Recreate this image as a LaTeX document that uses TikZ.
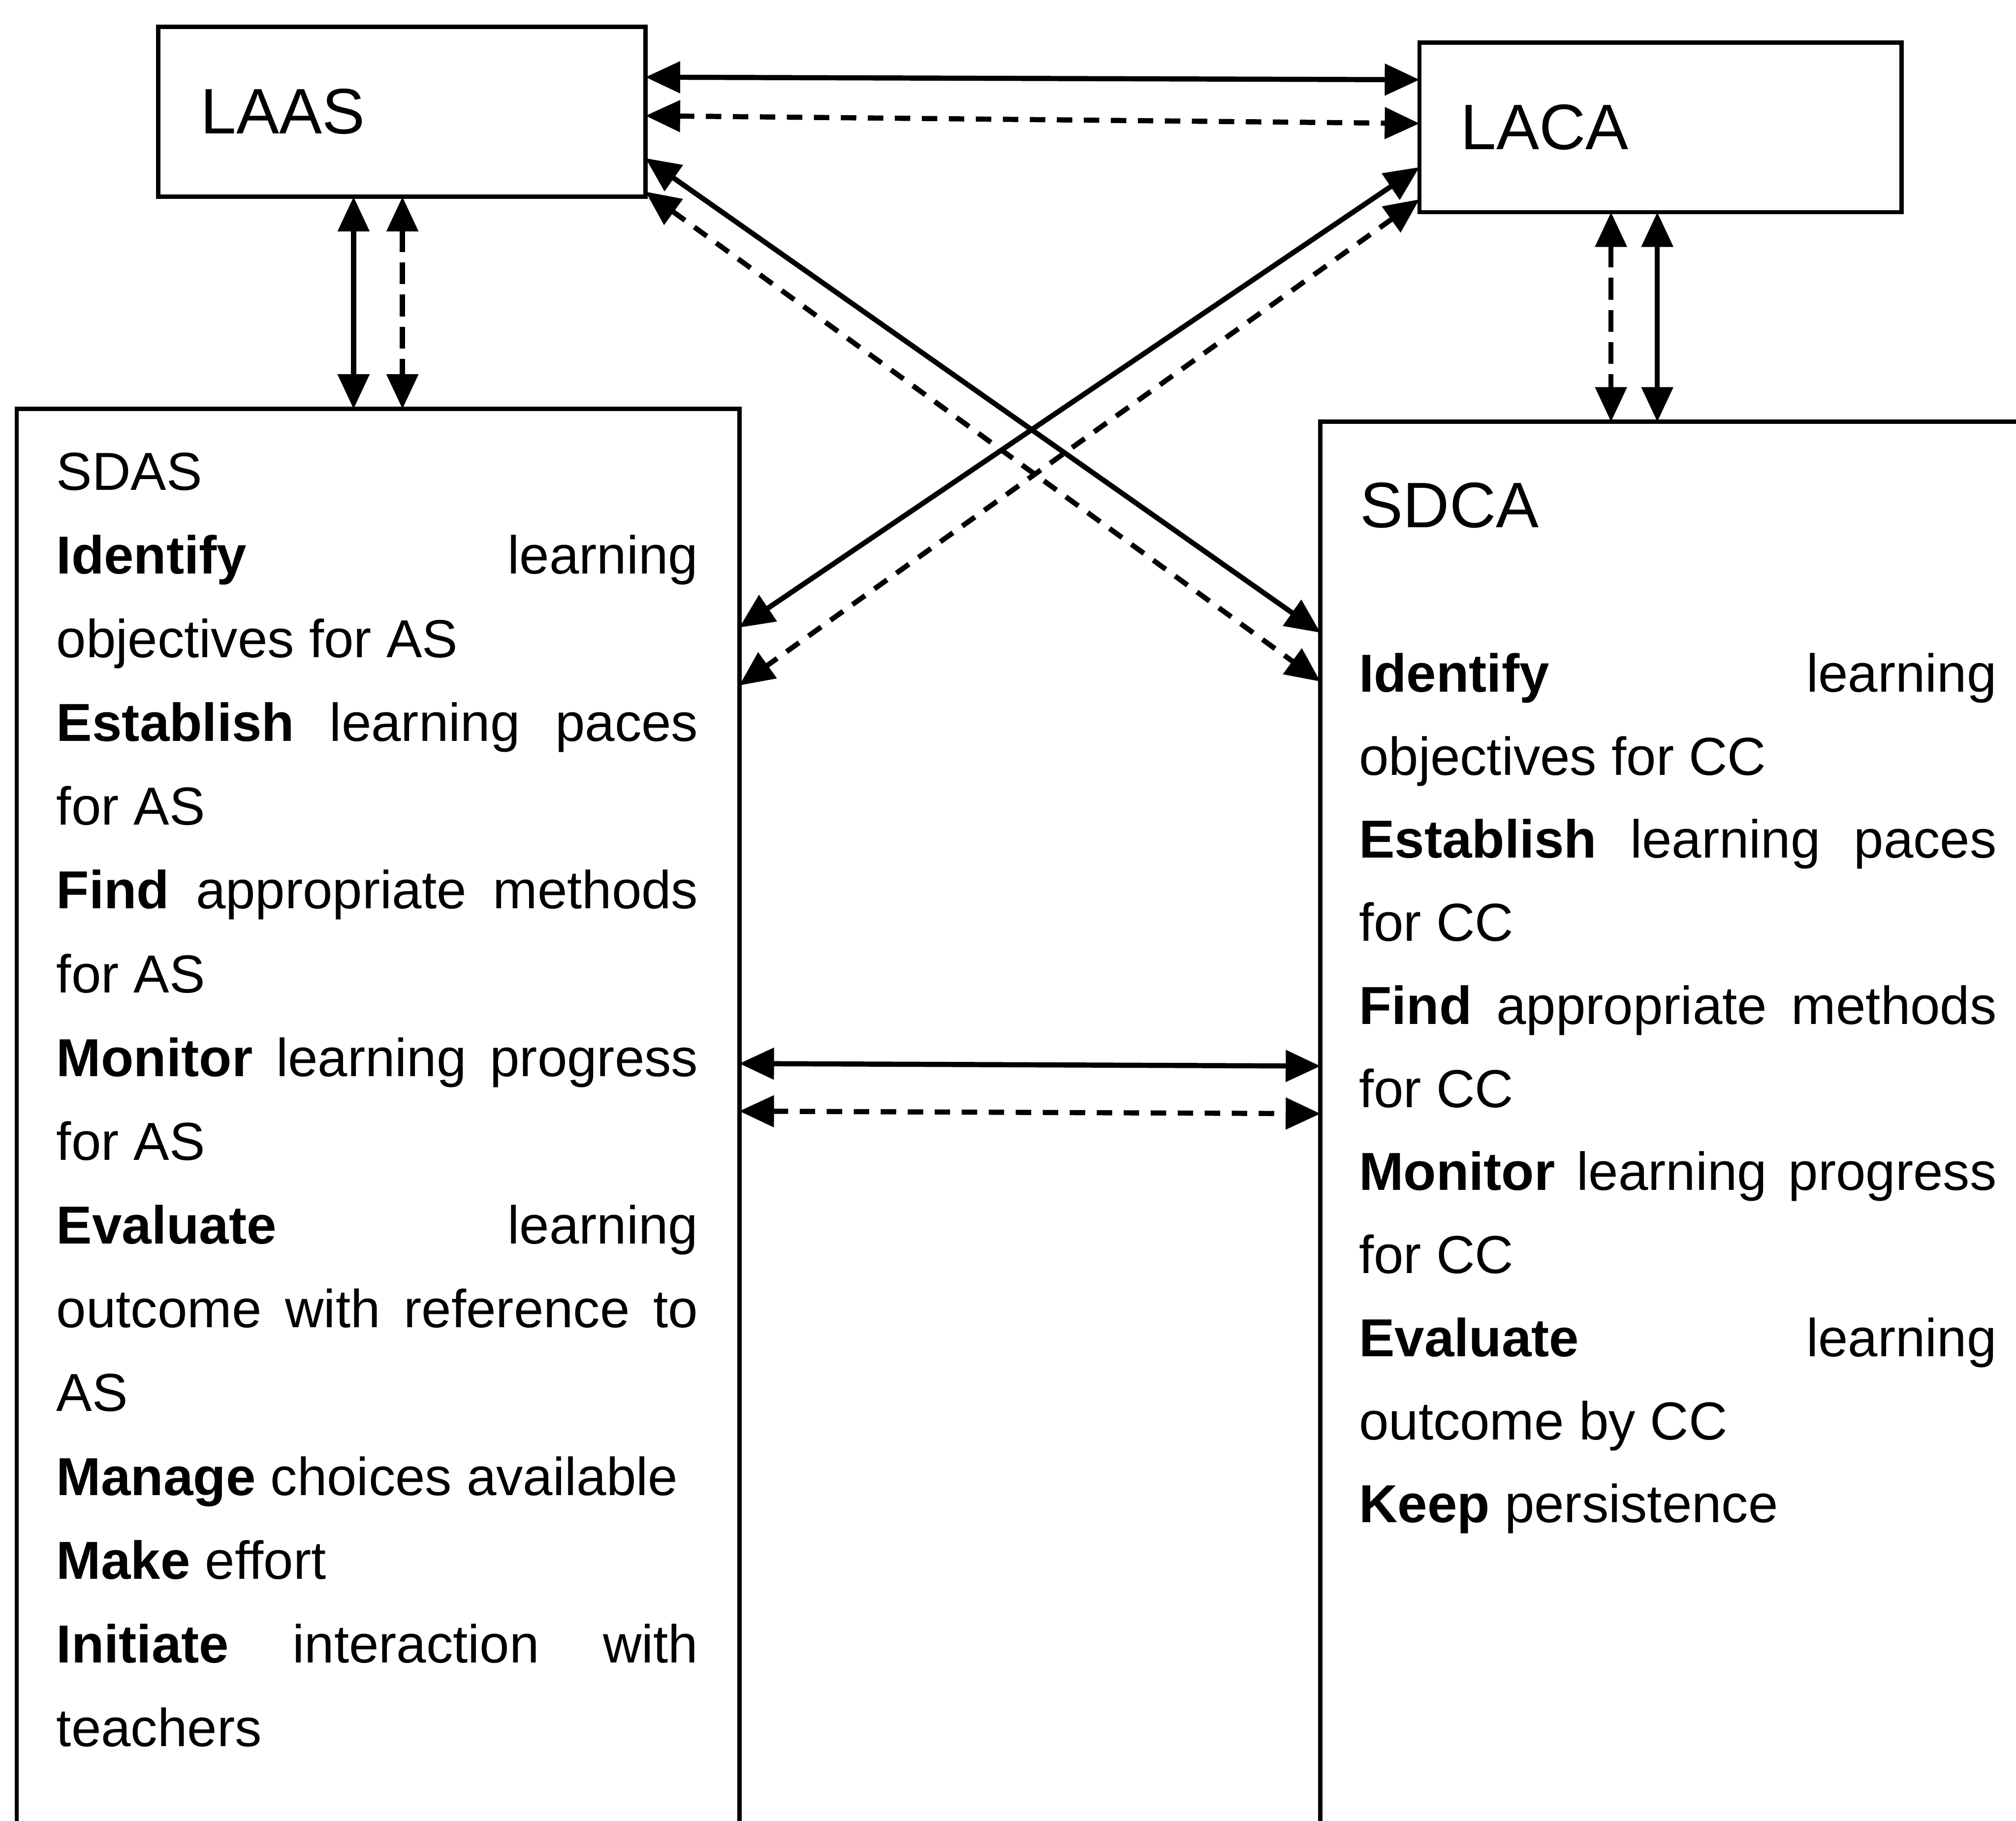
\documentclass[tikz,border=0pt]{standalone}
\usepackage{fontspec}
\setmainfont{Liberation Sans}
\usetikzlibrary{arrows.meta}
\newcommand\jline[1]{\hbox to 499pt{#1}}
\newcommand\kline[1]{\hbox to 496pt{#1}}
\begin{document}
\begin{tikzpicture}[x=1pt,y=-1pt,
  box/.style={draw, line width=3.4pt, inner sep=0pt, outer sep=0pt, anchor=north west},
  body/.style={anchor=base west, inner sep=0pt, outer sep=0pt, font=\fontsize{41.6}{50}\selectfont},
  big/.style={anchor=base west, inner sep=0pt, outer sep=0pt, font=\fontsize{50}{58}\selectfont},
  conn/.style={line width=4pt, {Triangle[length=27pt,width=24pt]}-{Triangle[length=27pt,width=24pt]}},
  dconn/.style={conn, dash pattern=on 12pt off 9pt},
  vdconn/.style={conn, dash pattern=on 17pt off 8pt},
]
\path[use as bounding box] (0,0) rectangle (1568,1416);
\clip (0,0) rectangle (1568,1416);

% boxes
\node[box, minimum width=379pt, minimum height=132pt] (laas) at (123,21) {};
\node[box, minimum width=375pt, minimum height=132pt] (laca) at (1104,33) {};
\node[box, minimum width=562pt, minimum height=1200pt] (sdas) at (13,318) {};
\node[box, minimum width=700pt, minimum height=1200pt] (sdca) at (1027,328) {};

% box titles
\node[big] (tlaas) at (156,104) {LAAS};
\node[big] (tlaca) at (1136,116) {LACA};
\node[big] (tsdca) at (1058,410) {SDCA};

% connectors
\draw[conn]  (laas.east |- 0,60) -- (laca.west |- 0,62);
\draw[dconn] (laas.east |- 0,90) -- (laca.west |- 0,96);
\draw[conn]  (275,0 |- laas.south) -- (275,0 |- sdas.north);
\draw[vdconn] (313,0 |- laas.south) -- (313,0 |- sdas.north);
\draw[vdconn] (1253,0 |- laca.south) -- (1253,0 |- sdca.north);
\draw[conn]  (1289,0 |- laca.south) -- (1289,0 |- sdca.north);
\draw[conn]  (laas.east |- 0,123) -- (sdca.west |- 0,492);
\draw[dconn] (laas.east |- 0,149) -- (sdca.west |- 0,530);
\draw[conn]  (laca.west |- 0,130) -- (sdas.east |- 0,488);
\draw[dconn] (laca.west |- 0,155) -- (sdas.east |- 0,533);
\draw[conn]  (sdas.east |- 0,827) -- (sdca.west |- 0,829);
\draw[dconn] (sdas.east |- 0,864) -- (sdca.west |- 0,866);

% SDAS text
\node[body] (a0) at (44,381) {SDAS};
\node[body] (a1) at (44,446.0) {\jline{\textbf{Identify}\hfill learning}};
\node[body] (a2) at (44,511.2) {objectives for AS};
\node[body] (a3) at (44,576.3) {\jline{\textbf{Establish}\hfill learning\hfill paces}};
\node[body] (a4) at (44,641.5) {for AS};
\node[body] (a5) at (44,706.6) {\jline{\textbf{Find}\hfill appropriate\hfill methods}};
\node[body] (a6) at (44,771.8) {for AS};
\node[body] (a7) at (44,836.9) {\jline{\textbf{Monitor}\hfill learning\hfill progress}};
\node[body] (a8) at (44,902.1) {for AS};
\node[body] (a9) at (44,967.2) {\jline{\textbf{Evaluate}\hfill learning}};
\node[body] (a10) at (44,1032.4) {\jline{outcome\hfill with\hfill reference\hfill to}};
\node[body] (a11) at (44,1097.5) {AS};
\node[body] (a12) at (44,1162.7) {\textbf{Manage} choices available};
\node[body] (a13) at (44,1227.8) {\textbf{Make} effort};
\node[body] (a14) at (44,1293.0) {\jline{\textbf{Initiate}\hfill interaction\hfill with}};
\node[body] (a15) at (44,1358.1) {teachers};

% SDCA text
\node[body] (c0) at (1057,538) {\kline{\textbf{Identify}\hfill learning}};
\node[body] (c1) at (1057,602.6) {objectives for CC};
\node[body] (c2) at (1057,667.2) {\kline{\textbf{Establish}\hfill learning\hfill paces}};
\node[body] (c3) at (1057,731.8) {for CC};
\node[body] (c4) at (1057,796.4) {\kline{\textbf{Find}\hfill appropriate\hfill methods}};
\node[body] (c5) at (1057,861) {for CC};
\node[body] (c6) at (1057,925.6) {\kline{\textbf{Monitor}\hfill learning\hfill progress}};
\node[body] (c7) at (1057,990.2) {for CC};
\node[body] (c8) at (1057,1054.8) {\kline{\textbf{Evaluate}\hfill learning}};
\node[body] (c9) at (1057,1119.4) {outcome by CC};
\node[body] (c10) at (1057,1184) {\textbf{Keep} persistence};
\end{tikzpicture}
\end{document}
